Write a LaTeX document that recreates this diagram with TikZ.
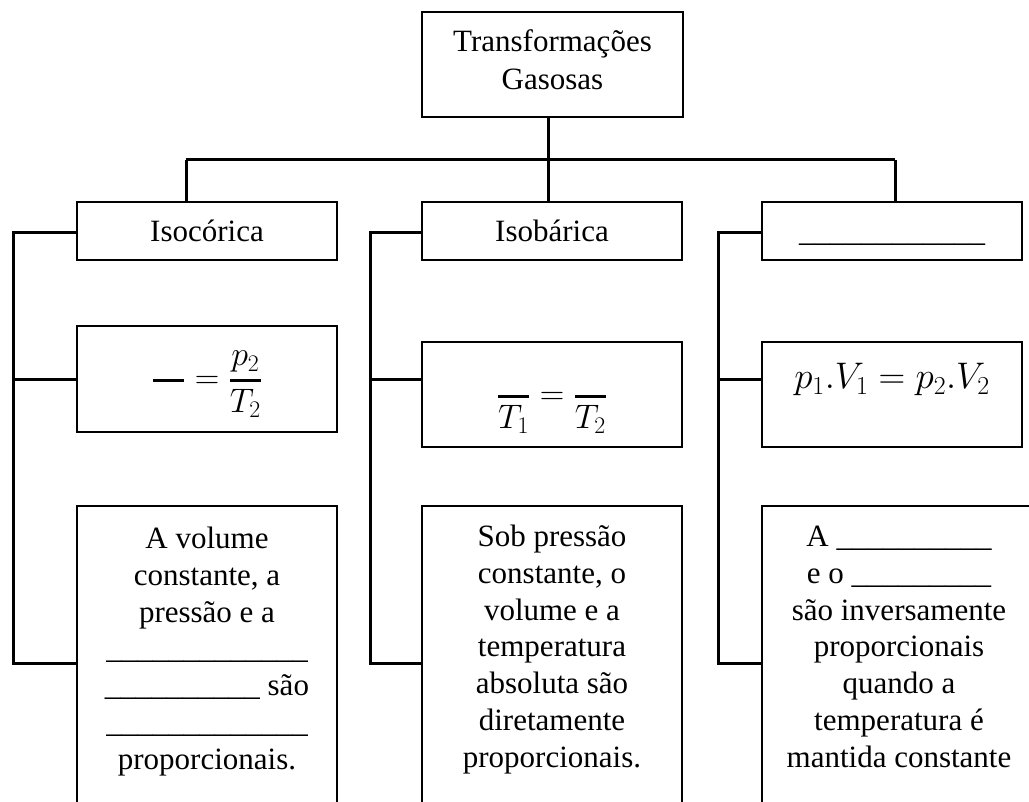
\RequirePackage{fix-cm}
\documentclass[tikz,border=0pt]{standalone}
\usepackage{amsmath}
\usepackage{fontspec}
\setmainfont{Liberation Serif}
\newcommand{\bfr}[2]{\genfrac{}{}{2.2pt}{0}{#1}{#2}}
\begin{document}
\begin{tikzpicture}[x=1pt,y=-1pt,
  box/.style={draw,line width=1.6pt,rectangle,inner sep=0pt,minimum width=260pt},
  conn/.style={line width=3pt,line join=miter},
  txt/.style={inner sep=0pt,font=\fontsize{31}{36.7}\selectfont,align=center,anchor=base},
  frm/.style={inner sep=0pt,font=\fontsize{34}{40}\selectfont,anchor=base}]
\clip (0,0) rectangle (1029,802);
% boxes
\node[box,minimum width=261pt,minimum height=105pt] (top) at (552.5,64.5) {};
\node[box,minimum height=58pt] (b1) at (207,231) {};
\node[box,minimum height=58pt] (b2) at (552,231) {};
\node[box,minimum height=58pt] (b3) at (892,231) {};
\node[box,minimum height=106pt] (f1) at (207,379) {};
\node[box,minimum height=105pt] (f2) at (552,394.5) {};
\node[box,minimum height=105pt] (f3) at (892,394.5) {};
\node[box,minimum height=344pt] (d1) at (207,678) {};
\node[box,minimum height=344pt] (d2) at (552,678) {};
\node[box,minimum width=274pt,minimum height=344pt] (d3) at (899,678) {};
% texts (anchor base = baseline of the last line)
\node[txt] (toptxt) at (552.5,90) {Transformações\\[1.3pt]Gasosas};
\node[txt] (b1txt) at (207,242) {Isocórica};
\node[txt] (b2txt) at (552,242) {Isobárica};
\node[txt] (b3txt) at (892,242) {\_\_\_\_\_\_\_\_\_\_\_\_};
\node[frm] (f1txt) at (207,389) {$\bfr{\hphantom{p_2}}{\hphantom{T_2}}=\bfr{p_2}{T_2}$};
\node[frm] (f2txt) at (552,405) {$\bfr{}{T_1}=\bfr{}{T_2}$};
\node[frm,font=\fontsize{37}{44}\selectfont] (f3txt) at (892,389) {$p_1.V_1=p_2.V_2$};
\node[txt] (d1txt) at (207,769) {A volume\\constante, a\\pressão e a\\\_\_\_\_\_\_\_\_\_\_\_\_\_\\\_\_\_\_\_\_\_\_\_\_ são\\\_\_\_\_\_\_\_\_\_\_\_\_\_\\proporcionais.};
\node[txt] (d2txt) at (552,767) {Sob pressão\\constante, o\\volume e a\\temperatura\\absoluta são\\diretamente\\proporcionais.};
\node[txt] (d3txt) at (899,767) {A \_\_\_\_\_\_\_\_\_\_\\e o \_\_\_\_\_\_\_\_\_\\são inversamente\\proporcionais\\quando a\\temperatura é\\mantida constante};
% connectors
\coordinate (hub) at (548,160);
\coordinate (hl) at (186,160);
\coordinate (hr) at (895,160);
\draw[conn] (hub |- top.south) -- (hub |- b2.north);
\draw[conn] (hl) -- (hr);
\draw[conn] (hl) -- (hl |- b1.north);
\draw[conn] (hr) -- (hr |- b3.north);
\foreach \c/\x/\b/\f/\d in {1/13/b1/f1/d1, 2/370/b2/f2/d2, 3/718/b3/f3/d3}{
  \coordinate (t\c) at (\x,233);
  \coordinate (m\c) at (\x,380);
  \coordinate (e\c) at (\x,663);
  \draw[conn] (t\c -| \b.west) -- (t\c) -- (e\c) -- (e\c -| \d.west);
  \draw[conn] (m\c) -- (m\c -| \f.west);
}
\end{tikzpicture}
\end{document}
